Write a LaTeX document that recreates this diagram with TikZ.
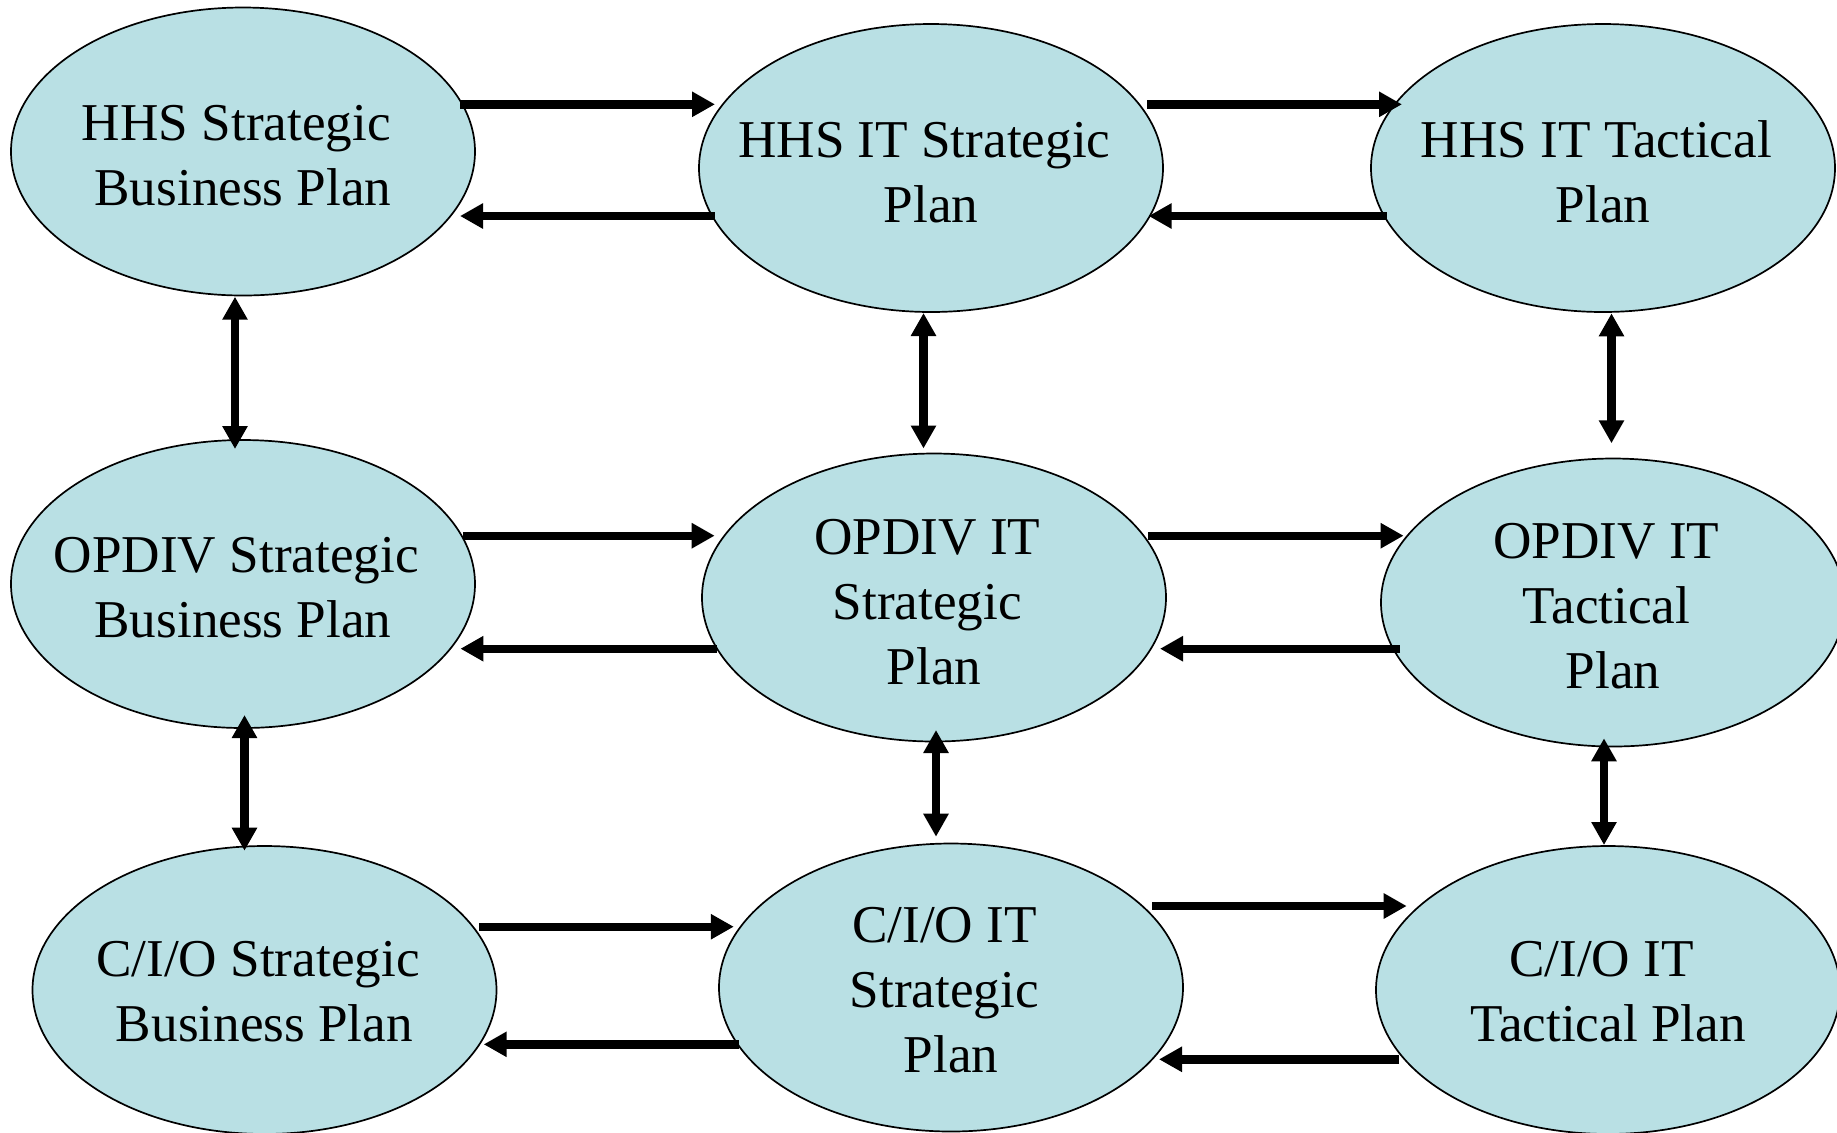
\documentclass[tikz,border=0pt]{standalone}
\usepackage{fontspec}
\setmainfont{Liberation Serif}
\usetikzlibrary{shapes.geometric,arrows.meta,calc}
\definecolor{planfill}{RGB}{185,224,228}
\newcommand\tsp{\rule{0.25em}{0pt}}
\begin{document}
\begin{tikzpicture}[x=0.5pt,y=-0.5pt,
  plan/.style={ellipse,draw=black,line width=0.85pt,fill=planfill,minimum width=232pt,minimum height=144pt,inner sep=0pt},
  lbl/.style={align=center,inner sep=0pt,font=\fontsize{26.6}{32.5}\selectfont},
  arr/.style={line width=4.2pt,-{Triangle[length=11.5pt,width=12pt]}},
  darr/.style={line width=4.2pt,{Triangle[length=11.5pt,width=12pt]}-{Triangle[length=11.5pt,width=12pt]}}]
\useasboundingbox (0,0) rectangle (1837,1132);
% ellipses
\node[plan] (a1) at (243,151.5) {};
\node[plan] (a2) at (931,168) {};
\node[plan] (a3) at (1603,168) {};
\node[plan] (b1) at (243,584) {};
\node[plan] (b2) at (934,597.5) {};
\node[plan] (b3) at (1613,602.5) {};
\node[plan] (c1) at (264.5,990) {};
\node[plan] (c2) at (951,987.5) {};
\node[plan] (c3) at (1608,990) {};
% labels
\node[lbl] (a1t) at ($(a1)+(0,4.5)$) {HHS Strategic\tsp\\Business Plan};
\node[lbl] (a2t) at ($(a2)+(0,4.5)$) {HHS IT Strategic\tsp\\Plan};
\node[lbl] (a3t) at ($(a3)+(0,3.5)$) {HHS IT Tactical\tsp\\Plan};
\node[lbl] (b1t) at ($(b1)+(0,4)$) {OPDIV Strategic\tsp\\Business Plan};
\node[lbl] (b2t) at ($(b2)+(0,5)$) {OPDIV IT\tsp\\Strategic\tsp\\Plan};
\node[lbl] (b3t) at ($(b3)+(0,3.5)$) {OPDIV IT\tsp\\Tactical\tsp\\Plan};
\node[lbl] (c1t) at ($(c1)+(0,2)$) {C/I/O Strategic\tsp\\Business Plan};
\node[lbl] (c2t) at ($(c2)+(0,3)$) {C/I/O IT\tsp\\Strategic\tsp\\Plan};
\node[lbl] (c3t) at ($(c3)+(0,2)$) {C/I/O IT\tsp\\Tactical Plan};
% horizontal arrows, row 1
\draw[arr] ($(a1)+(217,-47.2)$) -- ($(a2)+(-216,-63.7)$);
\draw[arr] ($(a2)+(-216,48)$) -- ($(a1)+(217,64.5)$);
\draw[arr] ($(a2)+(216,-63.7)$) -- ($(a3)+(-201,-63.7)$);
\draw[arr] ($(a3)+(-216,48)$) -- ($(a2)+(217.6,48)$);
% row 2
\draw[arr] ($(b1)+(219.8,-48.3)$) -- ($(b2)+(-219.3,-61.8)$);
\draw[arr] ($(b2)+(-217,51.2)$) -- ($(b1)+(217.4,64.7)$);
\draw[arr] ($(b2)+(214,-61.8)$) -- ($(b3)+(-209.4,-66.8)$);
\draw[arr] ($(b3)+(-213,46.2)$) -- ($(b2)+(226,51.2)$);
% row 3
\draw[arr] ($(c1)+(214.5,-63.3)$) -- ($(c2)+(-217.2,-60.8)$);
\draw[arr] ($(c2)+(-212,56.8)$) -- ($(c1)+(219.2,54.3)$);
\draw[arr] ($(c2)+(201,-81.5)$) -- ($(c3)+(-201.3,-84)$);
\draw[arr] ($(c3)+(-209,69.3)$) -- ($(c2)+(208,71.8)$);
% vertical double arrows
\draw[darr] ($(a1)+(-8,145.2)$) -- ($(b1)+(-8,-135)$);
\draw[darr] ($(a2)+(-7.5,145)$) -- ($(b2)+(-10.5,-149)$);
\draw[darr] ($(a3)+(8.5,145.3)$) -- ($(b3)+(-1.5,-159.2)$);
\draw[darr] ($(b1)+(1.5,131)$) -- ($(c1)+(-20,-139.3)$);
\draw[darr] ($(b2)+(2,132.5)$) -- ($(c2)+(-15,-150.8)$);
\draw[darr] ($(b3)+(-9,135.8)$) -- ($(c3)+(-4,-145)$);
\end{tikzpicture}
\end{document}
